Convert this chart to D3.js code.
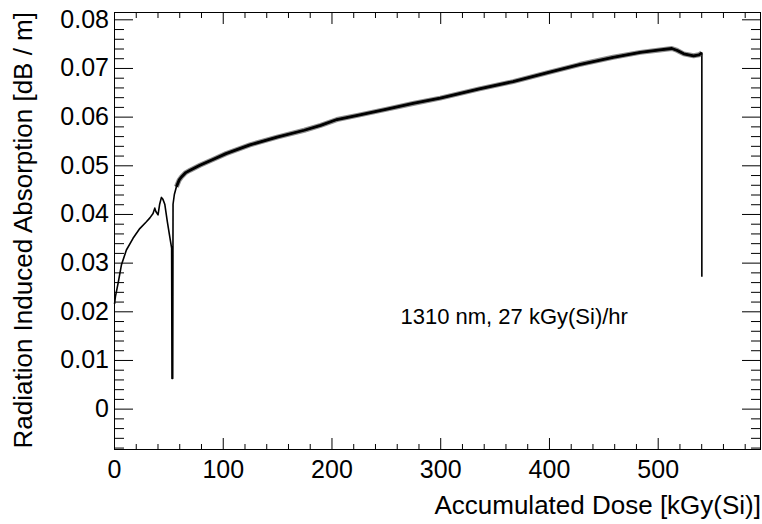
<!DOCTYPE html>
<html>
<head lang="en">
    <meta charset="UTF-8">
    <title></title>
    <script src="https://cdn.jsdelivr.net/npm/d3@7"></script>
    <style>
        body{margin:0;background:#fff;}
        text{font-family:"Liberation Sans",Arial,sans-serif;fill:#000;}
    </style>
</head>
<body>
<script>
    // accumulated dose [kGy(Si)]
    var dose=[0.5,1.3,3.7,6.8,11.4,17.5,23.7,29.8,33,35.9,37.5,38.5,40.5,42,43.6,45,46.7,49,51.3,53.0,
        53.3,54.0,54.3,55.5,57.4,60,62,66,70,79,91,103,125,150,175,190,205,225,250,275,300,
        336,367,398,428,459,484,502,513,518,524,533,538,540.6,540.6];
    // radiation induced absorption [dB / m]
    var ria=[0.0215,0.0230,0.0257,0.0295,0.0326,0.0350,0.0370,0.0384,0.0392,0.0401,0.0412,0.0405,0.0398,0.0420,0.0434,0.0430,0.0420,0.0385,0.0353,0.0330,
        0.0062,0.0062,0.0420,0.0440,0.0456,0.0470,0.0476,0.0485,0.0490,0.0500,0.0512,0.0524,0.0542,0.0558,0.0572,0.0582,0.0594,0.0603,0.0615,0.0627,0.0638,
        0.0657,0.0672,0.0690,0.0707,0.0722,0.0732,0.0737,0.0740,0.0736,0.0729,0.0725,0.0727,0.0731,0.0271];

    var xMajor=[0,100,200,300,400,500];
    var yMajor=[0,0.01,0.02,0.03,0.04,0.05,0.06,0.07,0.08];
    var xTitle="Accumulated Dose [kGy(Si)]";
    var yTitle="Radiation Induced Absorption [dB / m]";
    var note="1310 nm, 27 kGy(Si)/hr";

    var W=762,H=524;
    var padL=114,padR=761,padT=12,padB=450;

    var x=d3.scaleLinear().domain([0,595]).range([padL,padR]);
    var y=d3.scaleLinear().domain([-0.0085,0.0815]).range([padB,padT]);

    var xMinor=d3.range(0,596,20).filter(function(d){return d%100!==0;});
    var yMinor=d3.range(-4,41).filter(function(i){return i%5!==0;}).map(function(i){return i*0.002;});

    var _svg=d3.select("body")
            .append("svg")
            .attr("width",W)
            .attr("height",H);

    _svg.append("rect")
            .attr("width",W).attr("height",H).style("fill","#fff");

    function styleAxis(g){
        g.select(".domain").remove();
        g.selectAll("line").style("stroke","#000").style("stroke-width",1);
        g.selectAll("text").style("font-family","\"Liberation Sans\",Arial,sans-serif").style("fill","#000");
    }

    // bottom axis
    _svg.append("g").attr("transform","translate(0,"+padB+")")
            .call(d3.axisBottom(x).tickValues(xMajor).tickSize(-12).tickPadding(10).tickFormat(d3.format("d")))
            .call(styleAxis)
            .selectAll("text").style("font-size","25px");
    _svg.append("g").attr("transform","translate(0,"+padB+")")
            .call(d3.axisBottom(x).tickValues(xMinor).tickSize(-6).tickFormat(""))
            .call(styleAxis);
    // top axis
    _svg.append("g").attr("transform","translate(0,"+padT+")")
            .call(d3.axisTop(x).tickValues(xMajor).tickSize(-12).tickFormat(""))
            .call(styleAxis);
    _svg.append("g").attr("transform","translate(0,"+padT+")")
            .call(d3.axisTop(x).tickValues(xMinor).tickSize(-6).tickFormat(""))
            .call(styleAxis);
    // left axis
    _svg.append("g").attr("transform","translate("+padL+",0)")
            .call(d3.axisLeft(y).tickValues(yMajor).tickSize(-19).tickPadding(5)
                    .tickFormat(function(d){return d===0?"0":d.toFixed(2);}))
            .call(styleAxis)
            .selectAll("text").style("font-size","25px");
    _svg.append("g").attr("transform","translate("+padL+",0)")
            .call(d3.axisLeft(y).tickValues(yMinor).tickSize(-10).tickFormat(""))
            .call(styleAxis);
    // right axis
    _svg.append("g").attr("transform","translate("+padR+",0)")
            .call(d3.axisRight(y).tickValues(yMajor).tickSize(-19).tickFormat(""))
            .call(styleAxis);
    _svg.append("g").attr("transform","translate("+padR+",0)")
            .call(d3.axisRight(y).tickValues(yMinor).tickSize(-10).tickFormat(""))
            .call(styleAxis);

    // frame
    _svg.append("rect")
            .attr("x",padL+0.5).attr("y",padT+0.5)
            .attr("width",padR-padL-1).attr("height",padB-padT-1)
            .style("fill","none").style("stroke","#000").style("stroke-width",1);

    var pts=dose.map(function(d,i){return [d,ria[i]];});
    var line=d3.line()
            .x(function(d){return x(d[0]);})
            .y(function(d){return y(d[1]);});

    _svg.append("path")
            .attr("d",line(pts))
            .style("fill","none").style("stroke","#000").style("stroke-width",1.6)
            .style("stroke-linejoin","round");

    // noisy stretch drawn as a thicker band
    var noisy=pts.slice(dose.indexOf(57.4),pts.length-1);
    _svg.append("path")
            .attr("d",line(noisy))
            .style("fill","none").style("stroke","#444").style("stroke-opacity",0.6)
            .style("stroke-width",5).style("stroke-linejoin","round");
    _svg.append("path")
            .attr("d",line(noisy))
            .style("fill","none").style("stroke","#000").style("stroke-width",2.8)
            .style("stroke-linejoin","round");

    _svg.append("text")
            .attr("x",400.5).attr("y",323.5)
            .style("font-size","22px")
            .text(note);

    _svg.append("text")
            .attr("x",padR).attr("y",514)
            .attr("text-anchor","end")
            .style("font-size","26px")
            .text(xTitle);

    _svg.append("text")
            .attr("transform","translate(31.5,"+padT+") rotate(-90)")
            .attr("text-anchor","end")
            .style("font-size","26px")
            .text(yTitle);
</script>
</body>
</html>
